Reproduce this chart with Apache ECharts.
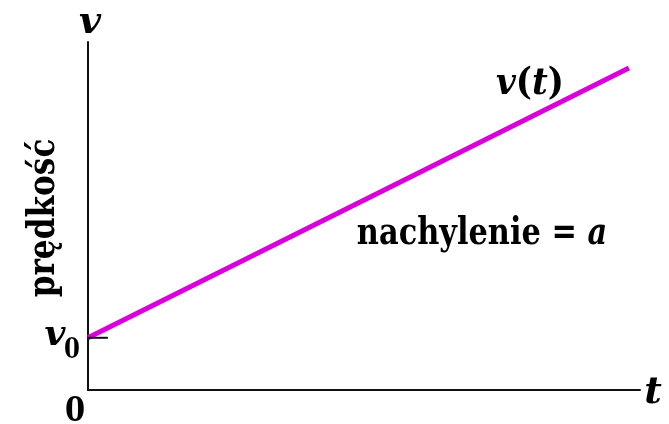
<!DOCTYPE html>
<html>
<head>
<meta charset="utf-8">
<script src="https://cdn.jsdelivr.net/npm/echarts@6/dist/echarts.min.js"></script>
<style>
  html, body { margin: 0; padding: 0; background: #fff; }
  #chart { width: 669px; height: 424px; }
</style>
</head>
<body>
<div id="chart"></div>
<script>
// czas i prędkość (jednostki umowne)
const timeValues = [0, 9.8];
const speedValues = [1.5, 9.25];
// krótka kreska przy v0 na osi pionowej
const v0TickTime = [0, 0.36];
const v0TickSpeed = [1.5, 1.5];

const serif = '"DejaVu Serif", "Liberation Serif", serif';
const ink = '#000';

// pomocnik do podpisów (tekst, środek, czcionka)
function label(text, x, y, font, extra) {
  return Object.assign({
    type: 'text', x: x, y: y,
    style: { text: text, font: font, fill: ink, align: 'center', verticalAlign: 'middle' }
  }, extra || {});
}

const chart = echarts.init(document.getElementById('chart'));

chart.setOption({
  backgroundColor: '#fff',
  animation: false,
  grid: { left: 88, top: 42, right: 29, bottom: 34 },
  xAxis: {
    type: 'value',
    min: 0,
    max: 10,
    axisLine: { lineStyle: { color: '#111', width: 2 } },
    axisTick: { show: false },
    axisLabel: { show: false },
    splitLine: { show: false }
  },
  yAxis: {
    type: 'value',
    min: 0,
    max: 10,
    axisLine: { show: true, lineStyle: { color: '#111', width: 2 } },
    axisTick: { show: false },
    axisLabel: { show: false },
    splitLine: { show: false }
  },
  series: [
    {
      type: 'line',
      data: timeValues.map((t, i) => [t, speedValues[i]]),
      symbol: 'none',
      lineStyle: { color: '#db00db', width: 5 }
    },
    {
      type: 'line',
      data: v0TickTime.map((t, i) => [t, v0TickSpeed[i]]),
      symbol: 'none',
      lineStyle: { color: '#111', width: 2 }
    }
  ],
  graphic: [
    label('v', 90, 23, 'italic bold 38px ' + serif),
    label('t', 653, 393, 'italic bold 38px ' + serif),
    label('0', 75, 412, 'bold 34px ' + serif, { scaleX: 0.85 }),
    label('v', 55, 336, 'italic bold 36px ' + serif),
    label('0', 72, 351, 'bold 27px ' + serif, { scaleX: 0.85 }),
    {
      type: 'text', x: 530, y: 84, scaleX: 0.9,
      style: {
        text: '{i|v}{n|(}{i|t}{n|)}',
        align: 'center', verticalAlign: 'middle',
        rich: {
          i: { font: 'italic bold 38px ' + serif, fill: ink },
          n: { font: 'bold 38px ' + serif, fill: ink }
        }
      }
    },
    {
      type: 'text', x: 482, y: 234, scaleX: 0.8,
      style: {
        text: '{n|nachylenie = }{i|a}',
        align: 'center', verticalAlign: 'middle',
        rich: {
          n: { font: 'bold 38px ' + serif, fill: ink },
          i: { font: 'italic bold 38px ' + serif, fill: ink }
        }
      }
    },
    label('prędkość', 44, 218, 'bold 38px ' + serif, { rotation: Math.PI / 2, scaleX: 0.82 })
  ]
});
</script>
</body>
</html>
